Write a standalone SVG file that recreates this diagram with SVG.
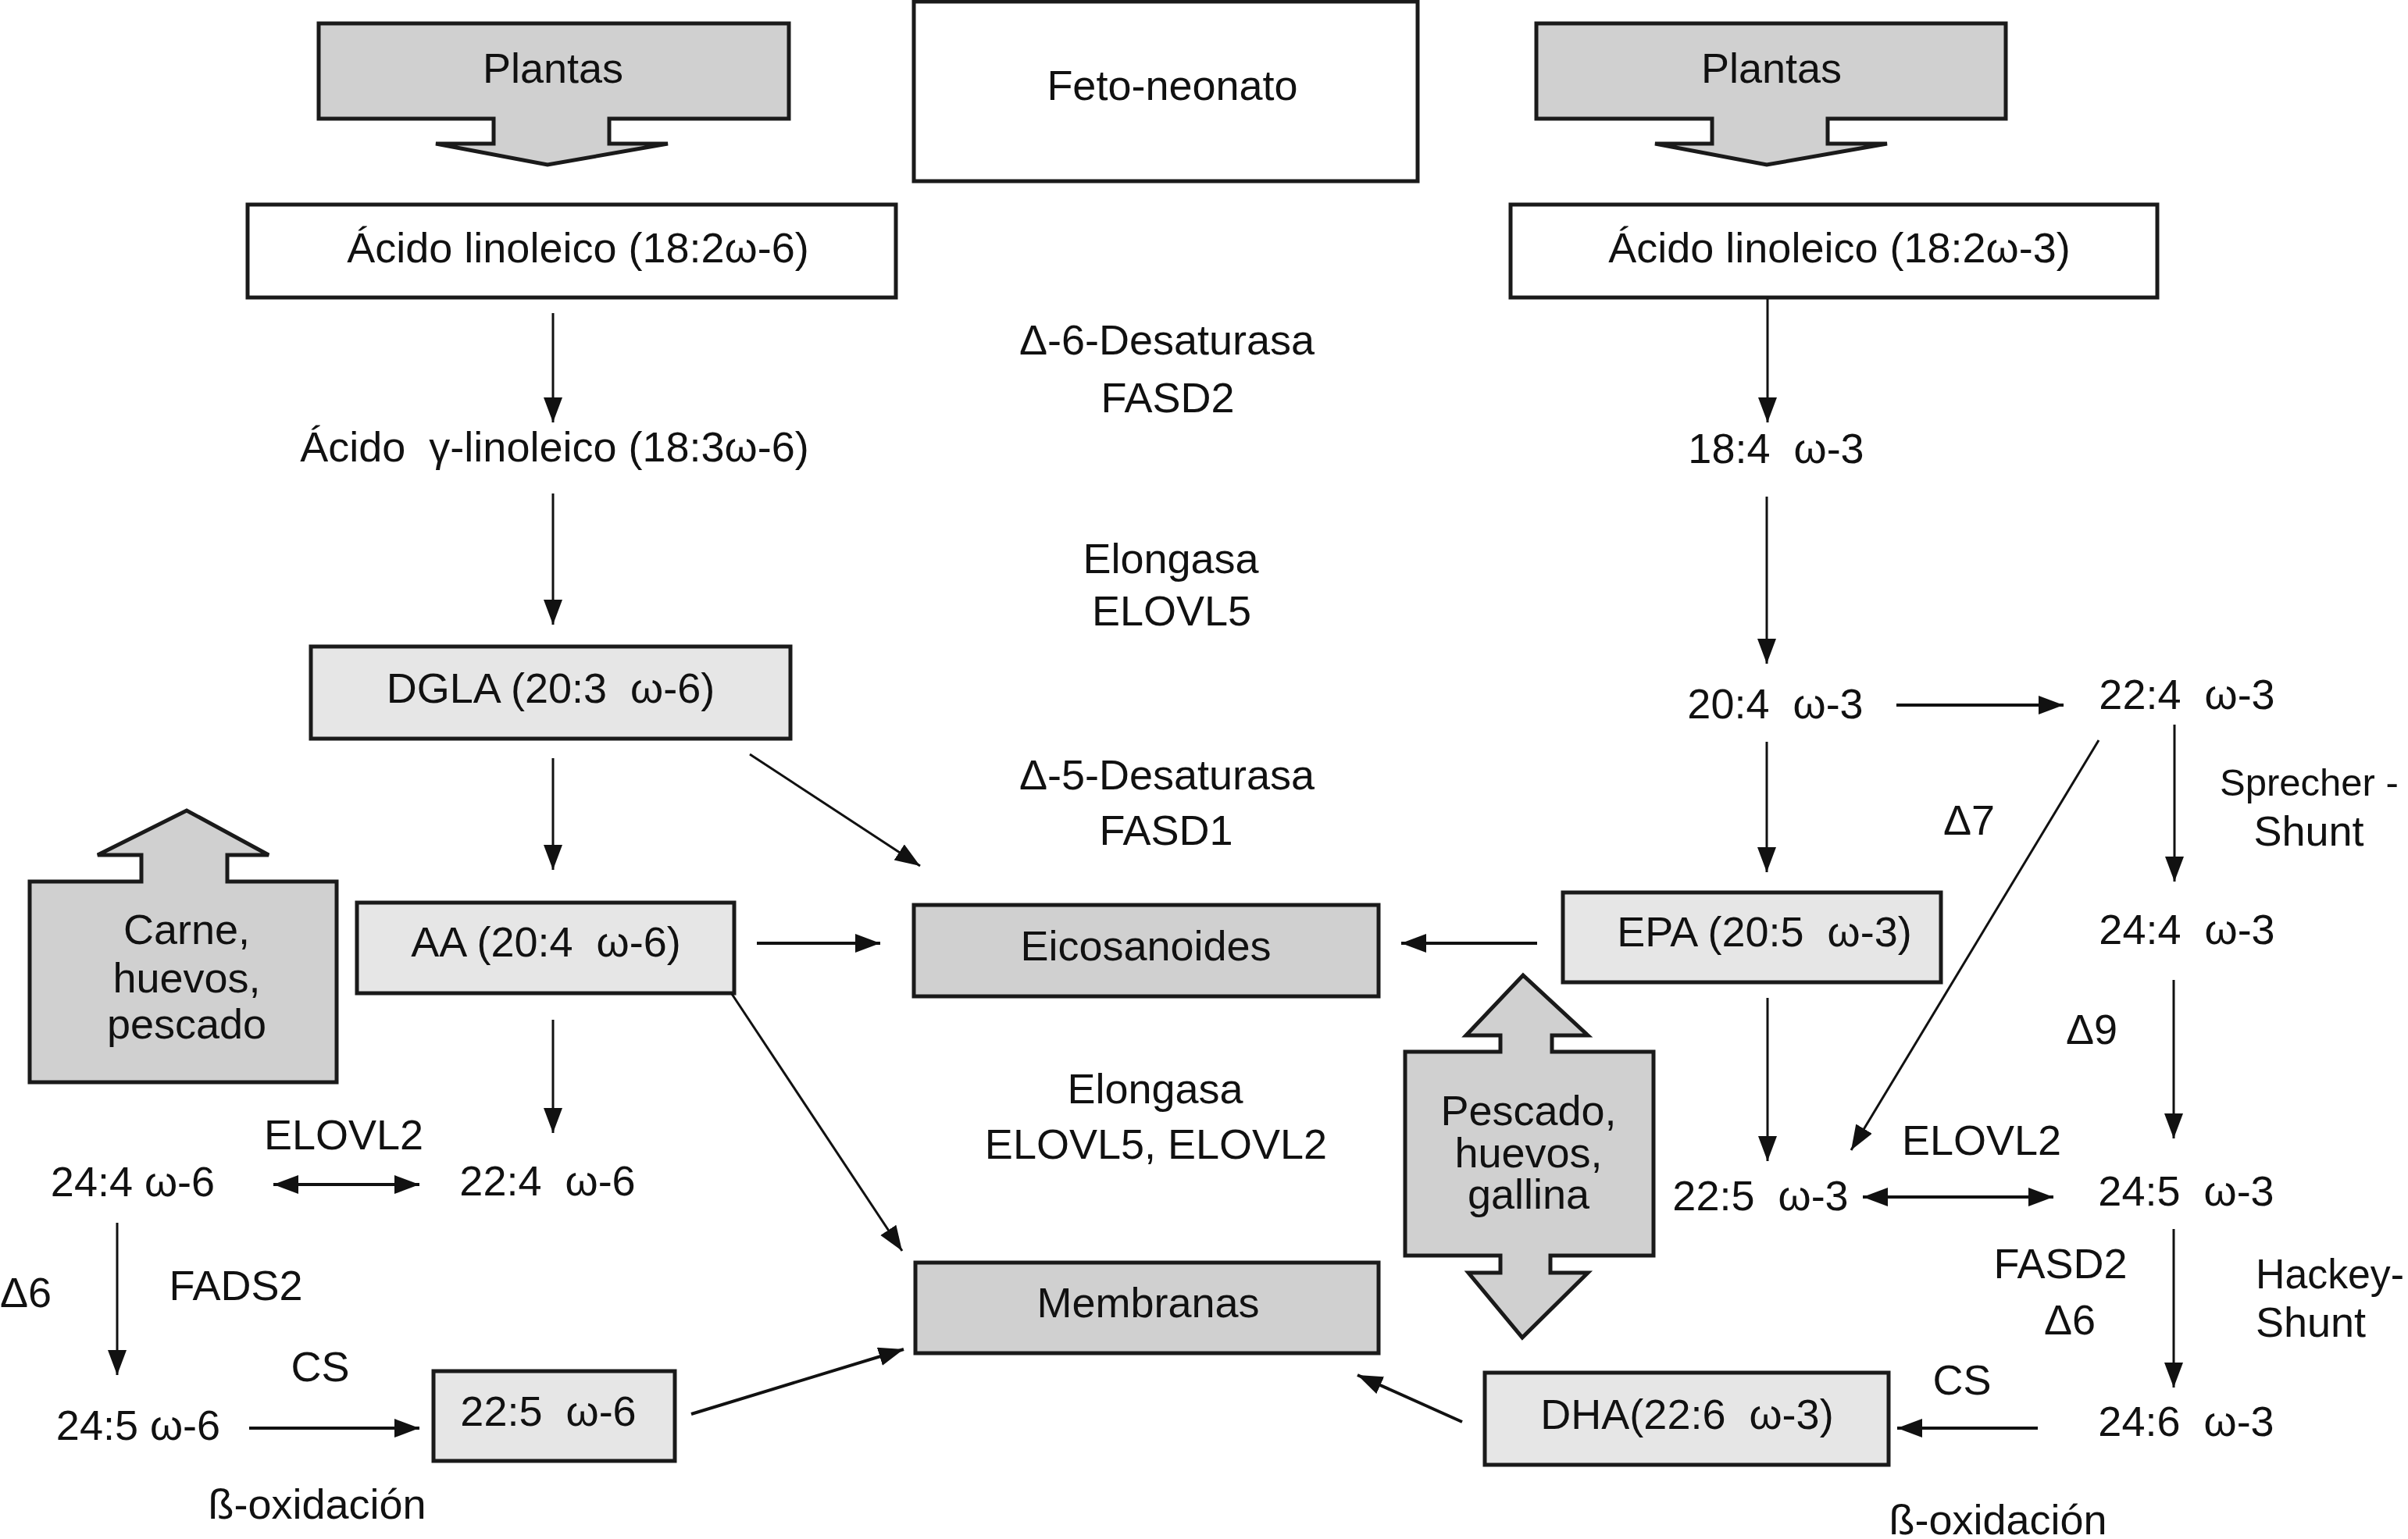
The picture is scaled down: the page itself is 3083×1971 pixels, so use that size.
<svg xmlns="http://www.w3.org/2000/svg" width="3083" height="1971" viewBox="0 0 3083 1971">
<style>
text{font-family:"Liberation Sans",Arial,sans-serif;font-size:54px;fill:#111;white-space:pre}
.c{text-anchor:middle}
.box{stroke:#1a1a1a;stroke-width:5}
.w{fill:#fff}
.l{fill:#e6e6e6}
.d{fill:#d0d0d0}
.big{fill:#d0d0d0;stroke:#1a1a1a;stroke-width:5;stroke-linejoin:miter}
.a{stroke:#111;stroke-width:3;fill:none;marker-end:url(#ah)}
.a2{stroke:#111;stroke-width:4;fill:none;marker-end:url(#ah)}
.ab{stroke:#111;stroke-width:4;fill:none;marker-end:url(#ah);marker-start:url(#ahs)}
</style>
<defs>
<marker id="ah" markerUnits="userSpaceOnUse" markerWidth="34" markerHeight="26" refX="32" refY="12" orient="auto">
<path d="M0,0 L32,12 L0,24 Z" fill="#111"/>
</marker>
<marker id="ahs" markerUnits="userSpaceOnUse" markerWidth="34" markerHeight="26" refX="0" refY="12" orient="auto">
<path d="M32,0 L0,12 L32,24 Z" fill="#111"/>
</marker>
</defs>
<rect width="3083" height="1971" fill="#fff"/>

<g id="plantas-left">
<polygon class="big" points="408,30 1010,30 1010,152 780,152 780,184 855,184 701,211 558,184 632,184 632,152 408,152"/>
<text class="c" x="708" y="106">Plantas</text>
</g>
<g id="feto-neonato">
<rect class="box w" x="1170" y="2" width="645" height="230"/>
<text class="c" x="1501" y="128">Feto-neonato</text>
</g>
<g id="plantas-right">
<polygon class="big" points="1967,30 2568,30 2568,152 2340,152 2340,184 2416,184 2262,211 2119,184 2192,184 2192,152 1967,152"/>
<text class="c" x="2268" y="106">Plantas</text>
</g>
<g id="linoleico-w6">
<rect class="box w" x="317" y="262" width="830" height="119"/>
<text class="c" x="740" y="336">Ácido linoleico (18:2ω-6)</text>
</g>
<g id="linoleico-w3">
<rect class="box w" x="1934" y="262" width="828" height="119"/>
<text class="c" x="2355" y="336">Ácido linoleico (18:2ω-3)</text>
</g>
<g id="enz-d6">
<text class="c" x="1494" y="454">Δ-6-Desaturasa</text>
<text class="c" x="1495" y="528">FASD2</text>
</g>
<g id="gla"><text class="c" x="710" y="591">Ácido  γ-linoleico (18:3ω-6)</text></g>
<g id="n18-4w3"><text class="c" x="2274" y="593">18:4  ω-3</text></g>
<g id="enz-elo5">
<text class="c" x="1499" y="734">Elongasa</text>
<text class="c" x="1500" y="801">ELOVL5</text>
</g>
<g id="dgla">
<rect class="box l" x="398" y="828" width="614" height="118"/>
<text class="c" x="705" y="900">DGLA (20:3  ω-6)</text>
</g>
<g id="n20-4w3"><text class="c" x="2273" y="920">20:4  ω-3</text></g>
<g id="n22-4w3"><text class="c" x="2800" y="908">22:4  ω-3</text></g>
<g id="enz-d5">
<text class="c" x="1494" y="1011">Δ-5-Desaturasa</text>
<text class="c" x="1493" y="1082">FASD1</text>
</g>
<g id="sprecher">
<text x="2842" y="1019" style="font-size:49px">Sprecher -</text>
<text class="c" x="2956" y="1083">Shunt</text>
</g>
<g id="d7"><text class="c" x="2521" y="1069">Δ7</text></g>
<g id="carne">
<polygon class="big" points="38,1386 431,1386 431,1129 291,1129 291,1095 344,1095 239,1038 125,1095 181,1095 181,1129 38,1129"/>
<text class="c" x="239" y="1209">Carne,</text>
<text class="c" x="239" y="1271">huevos,</text>
<text class="c" x="239" y="1330">pescado</text>
</g>
<g id="aa">
<rect class="box l" x="457" y="1156" width="483" height="116"/>
<text class="c" x="699" y="1225">AA (20:4  ω-6)</text>
</g>
<g id="eicosanoides">
<rect class="box d" x="1170" y="1159" width="595" height="117"/>
<text class="c" x="1467" y="1230">Eicosanoides</text>
</g>
<g id="epa">
<rect class="box l" x="2001" y="1143" width="484" height="115"/>
<text class="c" x="2259" y="1212">EPA (20:5  ω-3)</text>
</g>
<g id="n24-4w3"><text class="c" x="2800" y="1209">24:4  ω-3</text></g>
<g id="d9"><text class="c" x="2678" y="1337">Δ9</text></g>
<g id="enz-elo52">
<text class="c" x="1479" y="1413">Elongasa</text>
<text class="c" x="1480" y="1484">ELOVL5, ELOVL2</text>
</g>
<g id="pescado">
<polygon class="big" points="1799,1347 1921,1347 1921,1326 1877,1326 1950,1249 2033,1326 1987,1326 1987,1347 2117,1347 2117,1608 1985,1608 1985,1630 2033,1630 1949,1713 1880,1630 1921,1630 1921,1608 1799,1608"/>
<text class="c" x="1957" y="1441">Pescado,</text>
<text class="c" x="1957" y="1495">huevos,</text>
<text class="c" x="1957" y="1548">gallina</text>
</g>
<g id="elovl2-left"><text class="c" x="440" y="1472">ELOVL2</text></g>
<g id="n24-4w6"><text class="c" x="170" y="1532">24:4 ω-6</text></g>
<g id="n22-4w6"><text class="c" x="701" y="1531">22:4  ω-6</text></g>
<g id="elovl2-right"><text class="c" x="2537" y="1479">ELOVL2</text></g>
<g id="n22-5w3"><text class="c" x="2254" y="1550">22:5  ω-3</text></g>
<g id="n24-5w3"><text class="c" x="2799" y="1544">24:5  ω-3</text></g>
<g id="fasd2-right">
<text class="c" x="2638" y="1637">FASD2</text>
<text class="c" x="2650" y="1709">Δ6</text>
</g>
<g id="hackey">
<text x="2888" y="1650" textLength="190" lengthAdjust="spacingAndGlyphs">Hackey-</text>
<text x="2888" y="1712">Shunt</text>
</g>
<g id="d6-left"><text x="0" y="1674">Δ6</text></g>
<g id="fads2-left"><text class="c" x="302" y="1665">FADS2</text></g>
<g id="membranas">
<rect class="box d" x="1172" y="1617" width="593" height="116"/>
<text class="c" x="1470" y="1687">Membranas</text>
</g>
<g id="cs-left"><text class="c" x="410" y="1769">CS</text></g>
<g id="cs-right"><text class="c" x="2512" y="1786">CS</text></g>
<g id="n24-5w6"><text class="c" x="177" y="1844">24:5 ω-6</text></g>
<g id="n22-5w6">
<rect class="box l" x="555" y="1756" width="309" height="115"/>
<text class="c" x="702" y="1826">22:5  ω-6</text>
</g>
<g id="dha">
<rect class="box l" x="1901" y="1758" width="517" height="118"/>
<text class="c" x="2160" y="1830">DHA(22:6  ω-3)</text>
</g>
<g id="n24-6w3"><text class="c" x="2799" y="1839">24:6  ω-3</text></g>
<g id="box-left"><text class="c" x="406" y="1945">ß-oxidación</text></g>
<g id="box-right"><text class="c" x="2558" y="1965">ß-oxidación</text></g>

<g id="connectors">
<line class="a" x1="708" y1="401" x2="708" y2="541"/>
<line class="a" x1="708" y1="632" x2="708" y2="800"/>
<line class="a" x1="708" y1="971" x2="708" y2="1114"/>
<line class="a" x1="960" y1="966" x2="1178" y2="1109"/>
<line class="a2" x1="969" y1="1208" x2="1127" y2="1208"/>
<line class="a" x1="708" y1="1306" x2="708" y2="1451"/>
<line class="a" x1="937" y1="1273" x2="1155" y2="1602"/>
<line class="ab" x1="350" y1="1517" x2="537" y2="1517"/>
<line class="a" x1="150" y1="1566" x2="150" y2="1761"/>
<line class="a2" x1="319" y1="1829" x2="537" y2="1829"/>
<line class="a2" x1="885" y1="1811" x2="1157" y2="1728"/>
<line class="a" x1="2263" y1="383" x2="2263" y2="541"/>
<line class="a" x1="2262" y1="636" x2="2262" y2="850"/>
<line class="a2" x1="2428" y1="903" x2="2642" y2="903"/>
<line class="a" x1="2784" y1="928" x2="2784" y2="1129"/>
<line class="a" x1="2262" y1="950" x2="2262" y2="1117"/>
<line class="a2" x1="1968" y1="1208" x2="1794" y2="1208"/>
<line class="a" x1="2263" y1="1278" x2="2263" y2="1487"/>
<line class="a" x1="2687" y1="948" x2="2370" y2="1473"/>
<line class="a" x1="2783" y1="1255" x2="2783" y2="1458"/>
<line class="ab" x1="2385" y1="1533" x2="2629" y2="1533"/>
<line class="a" x1="2783" y1="1574" x2="2783" y2="1777"/>
<line class="a2" x1="2609" y1="1829" x2="2429" y2="1829"/>
<line class="a2" x1="1872" y1="1821" x2="1738" y2="1761"/>
</g>
</svg>
